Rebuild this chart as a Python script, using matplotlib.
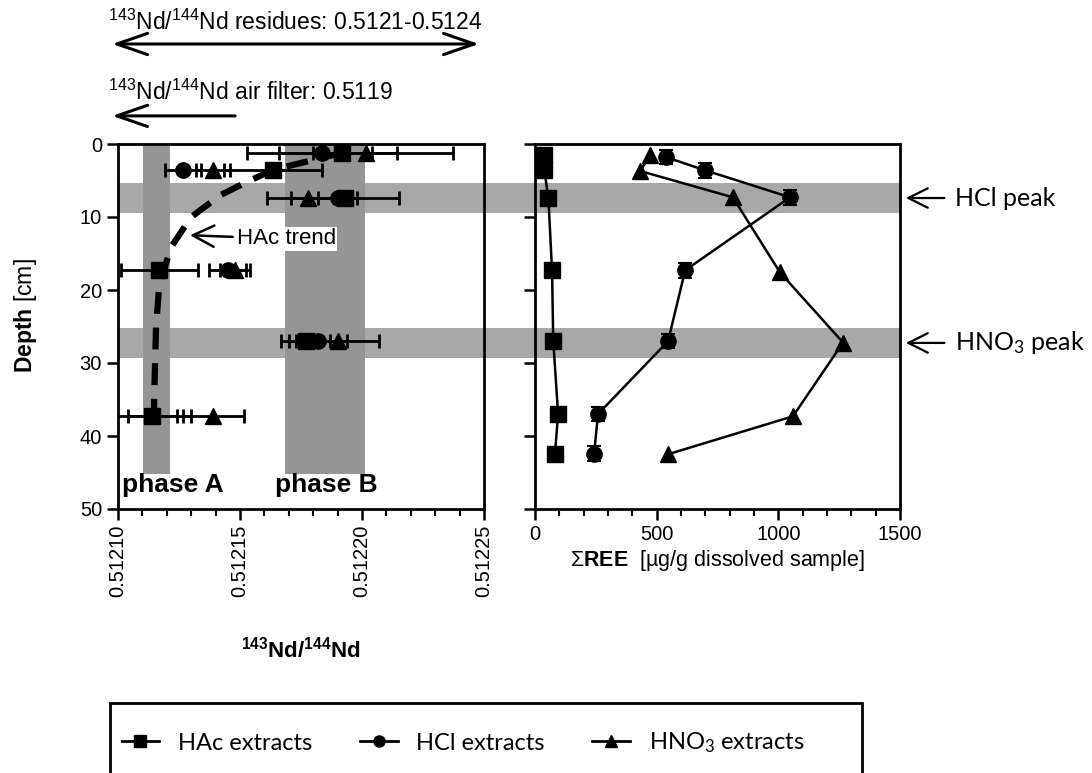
import matplotlib
matplotlib.use("Agg")
import matplotlib.pyplot as plt
import matplotlib.transforms as mtransforms
from matplotlib.patches import Rectangle
from matplotlib.lines import Line2D
from matplotlib.ticker import FixedLocator, FormatStrFormatter, MultipleLocator

plt.rcParams['font.family'] = 'Liberation Sans'
plt.rcParams['mathtext.fontset'] = 'custom'
plt.rcParams['mathtext.rm'] = 'Liberation Sans'
plt.rcParams['mathtext.bf'] = 'Liberation Sans:bold'
plt.rcParams['mathtext.default'] = 'regular'

# --- Nd isotope data (left panel) ---
hac_nd_depth = [1.2, 3.5, 7.4, 17.3, 27.0, 37.3]
hac_nd = [0.512192, 0.5121635, 0.512193, 0.512117, 0.512177, 0.512114]
hac_nd_err = [0.000012, 0.00002, 0.000022, 0.0000157, 0.00001, 0.000016]

hcl_nd_depth = [1.2, 3.5, 7.4, 17.3, 27.0, 37.3]
hcl_nd = [0.5121836, 0.5121266, 0.512190, 0.512145, 0.512182, 0.512114]
hcl_nd_err = [0.0000307, 0.0000074, 0.000008, 0.0000075, 0.000012, 0.00001]

hno3_nd_depth = [1.2, 3.5, 7.4, 17.3, 27.0, 37.3]
hno3_nd = [0.5122016, 0.512139, 0.512178, 0.512148, 0.512190, 0.512139]
hno3_nd_err = [0.0000355, 0.000007, 0.000017, 0.000006, 0.000017, 0.0000125]

# hand drawn HAc trend
trend_nd = [0.512192, 0.512164, 0.512154, 0.512142, 0.51213, 0.512122, 0.512117, 0.5121156, 0.5121148, 0.5121148]
trend_depth = [1.2, 3.5, 5.0, 7.0, 10.0, 14.0, 19.0, 25.0, 35.0, 38.0]

# --- REE data (right panel) ---
hac_ree_depth = [1.5, 3.5, 7.4, 17.3, 27.0, 37.0, 42.4]
hac_ree = [35, 38, 55, 70, 75, 95, 82]
hcl_ree_depth = [1.8, 3.6, 7.3, 17.3, 27.0, 37.0, 42.4]
hcl_ree = [538, 699, 1048, 617, 547, 259, 243]
hno3_ree_depth = [1.5, 3.7, 7.3, 17.6, 27.2, 37.3, 42.5]
hno3_ree = [473, 432, 813, 1007, 1266, 1060, 547]

# shaded ranges
hcl_peak = (5.4, 9.4)
hno3_peak = (25.2, 29.3)
phase_a = (0.5121103, 0.5121213)
phase_b = (0.5121684, 0.5122012)
phase_bottom = 45.2

nd_ticks = [0.51210, 0.51215, 0.51220, 0.51225]
nd_minor = [0.51210 + i * 0.00001 for i in range(16)]

fig = plt.figure(figsize=(10.92, 7.73), dpi=100)
ax1 = fig.add_axes([118/1092, 264/773, 366/1092, 365/773])
ax2 = fig.add_axes([535/1092, 264/773, 365/1092, 365/773])

band_h = '#a8a8a8'
band_v = '#959595'

for ax in (ax1, ax2):
    ax.set_ylim(50, 0)
    for lo, hi in (hcl_peak, hno3_peak):
        ax.axhspan(lo, hi, color=band_h, lw=0, zorder=0)
    for s in ax.spines.values():
        s.set_linewidth(2)
    ax.tick_params(direction='out', length=8, width=1.8, labelsize=14.5)
    ax.tick_params(which='minor', direction='out', length=5, width=1.5)

# band in the gap between the panels
gap_tr = mtransforms.blended_transform_factory(fig.transFigure, ax1.transData)
for lo, hi in (hcl_peak, hno3_peak):
    fig.add_artist(Rectangle((484/1092, lo), 51/1092, hi - lo, transform=gap_tr,
                             color=band_h, lw=0, zorder=-1))

# ---- left panel ----
ax1.set_xlim(nd_ticks[0], nd_ticks[-1])
for lo, hi in (phase_a, phase_b):
    ax1.fill_between([lo, hi], 0, phase_bottom, color=band_v, lw=0, zorder=0.5)

eb = dict(color='k', elinewidth=2, capsize=5, capthick=2, ls='none', zorder=3)
ax1.errorbar(hac_nd, hac_nd_depth, xerr=hac_nd_err, fmt='s', ms=11, **eb)
ax1.errorbar(hcl_nd, hcl_nd_depth, xerr=hcl_nd_err, fmt='o', ms=11, **eb)
ax1.errorbar(hno3_nd, hno3_nd_depth, xerr=hno3_nd_err, fmt='^', ms=11, **eb)
ax1.plot(trend_nd, trend_depth, color='k', lw=4.5, ls=(0, (3.5, 2.2)),
         dash_capstyle='butt', zorder=4)

ax1.annotate('HAc trend', xy=(0.5121295, 12.5), xytext=(0.5121487, 13.0),
             fontsize=16, va='center', ha='left', zorder=5,
             bbox=dict(facecolor='white', edgecolor='none', pad=1),
             arrowprops=dict(arrowstyle='->, head_length=0.9, head_width=0.45',
                             lw=1.8, color='k', mutation_scale=17, shrinkA=2, shrinkB=0))
ax1.text(0.5121017, 46.7, 'phase A', fontsize=19, fontweight='bold', va='center', ha='left')
ax1.text(0.5121645, 46.7, 'phase B', fontsize=19, fontweight='bold', va='center', ha='left')

ax1.xaxis.set_major_locator(FixedLocator(nd_ticks))
ax1.xaxis.set_minor_locator(FixedLocator(nd_minor))
ax1.xaxis.set_major_formatter(FormatStrFormatter('%.5f'))
ax1.tick_params(axis='x', labelrotation=90)
ax1.yaxis.set_major_locator(MultipleLocator(10))
ax1.set_xlabel(r'$^{143}$Nd/$^{144}$Nd', fontsize=16, fontweight='bold', labelpad=28)
ax1.set_ylabel(r'$\mathbf{Depth}$ [cm]', fontsize=16.5)
ax1.yaxis.set_label_coords(-0.215, 0.53)

# annotations above the left panel
ax1.text(-0.027, 1.334, r'$^{143}$Nd/$^{144}$Nd residues: 0.5121-0.5124',
         transform=ax1.transAxes, fontsize=16.5, va='center', ha='left')
ax1.annotate('', xy=(-0.016, 1.274), xytext=(0.986, 1.274),
             xycoords='axes fraction', textcoords='axes fraction',
             arrowprops=dict(arrowstyle='<->, head_length=1.3, head_width=0.45',
                             lw=2.2, color='k', mutation_scale=17, shrinkA=0, shrinkB=0))
ax1.text(-0.027, 1.142, r'$^{143}$Nd/$^{144}$Nd air filter: 0.5119',
         transform=ax1.transAxes, fontsize=16.5, va='center', ha='left')
ax1.annotate('', xy=(-0.016, 1.077), xytext=(0.32, 1.077),
             xycoords='axes fraction', textcoords='axes fraction',
             arrowprops=dict(arrowstyle='->, head_length=1.3, head_width=0.45',
                             lw=2.2, color='k', mutation_scale=17, shrinkA=0, shrinkB=0))

# ---- right panel ----
ax2.set_xlim(0, 1500)
ax2.plot(hac_ree, hac_ree_depth, color='k', lw=1.8, marker='s', ms=11, zorder=3, clip_on=False)
ax2.errorbar(hcl_ree, hcl_ree_depth, yerr=1.0, color='k', lw=1.8, marker='o', ms=11,
             elinewidth=1.5, capsize=5, capthick=1.5, zorder=3)
ax2.plot(hno3_ree, hno3_ree_depth, color='k', lw=1.8, marker='^', ms=12, zorder=3)
ax2.xaxis.set_major_locator(FixedLocator([0, 500, 1000, 1500]))
ax2.xaxis.set_minor_locator(MultipleLocator(100))
ax2.yaxis.set_major_locator(MultipleLocator(10))
ax2.set_yticklabels([])
ax2.set_xlabel('Σ$\\mathbf{REE}$  [µg/g dissolved sample]', fontsize=15.5, labelpad=3)

pk = dict(xycoords=('axes fraction', 'data'), textcoords=('axes fraction', 'data'),
          fontsize=18, family='Lato', va='center', ha='left',
          arrowprops=dict(arrowstyle='->, head_length=1.0, head_width=0.5',
                          lw=1.6, color='k', mutation_scale=14, shrinkA=6, shrinkB=0))
ax2.annotate('HCl peak', xy=(1.016, sum(hcl_peak) / 2), xytext=(1.152, sum(hcl_peak) / 2), **pk)
ax2.annotate('HNO$_3$ peak', xy=(1.016, sum(hno3_peak) / 2), xytext=(1.152, sum(hno3_peak) / 2), **pk)

# ---- legend ----
handles = [Line2D([], [], color='k', lw=2, marker='s', ms=8),
           Line2D([], [], color='k', lw=2, marker='o', ms=8),
           Line2D([], [], color='k', lw=2, marker='^', ms=8)]
labels = ['HAc extracts', 'HCl extracts', 'HNO$_3$ extracts']
fig.legend(handles, labels, loc='center', bbox_to_anchor=(0.424, 0.039), ncol=3,
           frameon=False, handlelength=1.6, handletextpad=0.8, columnspacing=2.0,
           prop={'family': 'Lato', 'size': 17})
fig.add_artist(Rectangle((110/1092, -0.06), 752/1092, 0.06 + 70/773,
                         transform=fig.transFigure, fill=False, lw=2, color='k'))

fig.savefig('out.png', dpi=100)
